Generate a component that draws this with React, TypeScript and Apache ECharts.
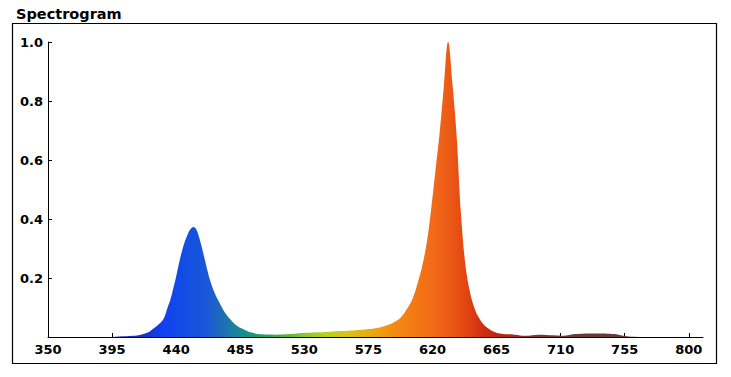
import React, { useEffect, useRef } from "react";
import * as echarts from "echarts";

const titleText = "Spectrogram";
const xTicks = [350, 395, 440, 485, 530, 575, 620, 665, 710, 755, 800];
const yTicks = [0.2, 0.4, 0.6, 0.8, 1.0];

const wavelengths = [
  350, 390, 400, 410, 415, 420, 423, 427, 431, 434, 436, 438, 440, 442, 444, 446, 448, 450, 452, 454,
  456, 458, 460, 462, 464, 467, 470, 474, 478, 483, 488, 493, 500, 510, 520, 532, 545, 555, 568, 580,
  587, 593, 598, 602, 606, 610, 613, 616, 619, 622, 625, 628, 631, 634, 637, 640,
  643, 646, 649, 652, 656, 660, 665, 670, 678, 685, 695, 705, 712, 720, 735, 748, 755, 765, 800,
];
const intensities = [
  0, 0, 0.002, 0.004, 0.008, 0.015, 0.025, 0.04, 0.06, 0.1, 0.127, 0.165, 0.205, 0.25, 0.29, 0.322, 0.347, 0.365, 0.373, 0.366,
  0.34, 0.305, 0.265, 0.225, 0.19, 0.15, 0.12, 0.085, 0.06, 0.037, 0.025, 0.015, 0.009, 0.008, 0.01, 0.014, 0.017, 0.02, 0.024, 0.03,
  0.038, 0.05, 0.068, 0.095, 0.13, 0.19, 0.245, 0.32, 0.43, 0.56, 0.69, 0.85, 1.0, 0.86, 0.68, 0.42,
  0.25, 0.16, 0.105, 0.07, 0.042, 0.026, 0.014, 0.01, 0.008, 0.004, 0.008, 0.006, 0.004, 0.01, 0.012, 0.01, 0.003, 0, 0,
];

// wavelength-to-colour stops for the fill
const colorNm = [350, 415, 430, 450, 462, 472, 480, 490, 502, 515, 530, 545, 560, 575, 590, 605, 620, 632, 642, 652, 665, 685, 720, 800];
const colorHex = [
  "#2a1a8a", "#1a30c0", "#1040f0", "#1450e0", "#1a58d8", "#1f6cb8", "#1d80a0", "#1a9080", "#2a9c60", "#50b040", "#88c828", "#b8d020",
  "#d8c418", "#e8ac14", "#f29012", "#f47c14", "#f26a18", "#ec5a16", "#e44814", "#d63412", "#c42212", "#8a3030", "#6a3a38", "#6a3a38",
];

export default function App() {
  const ref = useRef<HTMLDivElement>(null);
  useEffect(() => {
    if (!ref.current) return;
    const chart = echarts.init(ref.current, undefined, { renderer: "svg" });
    const lo = wavelengths[0];
    const hi = wavelengths[wavelengths.length - 1];
    const stops = colorNm.map((nm, i) => ({ offset: (nm - lo) / (hi - lo), color: colorHex[i] }));
    const labelFont = { fontFamily: "DejaVu Sans", fontWeight: "bold" as const, fontSize: 13, color: "#000" };
    chart.setOption({
      animation: false,
      backgroundColor: "#fff",
      title: {
        text: titleText,
        left: 11,
        top: 1,
        textStyle: { fontFamily: "DejaVu Sans", fontWeight: "bold", fontSize: 14.5, color: "#000" },
      },
      graphic: [
        {
          type: "rect",
          shape: { x: 12.5, y: 23.5, width: 704, height: 340 },
          style: { fill: "none", stroke: "#000", lineWidth: 1.2 },
          z: 0,
        },
      ],
      grid: { left: 48, right: 28, top: 42, bottom: 40 },
      xAxis: {
        type: "value",
        min: 350,
        max: 810,
        axisLine: { show: true, lineStyle: { color: "#000", width: 1 } },
        axisTick: { show: true, inside: true, length: 4, lineStyle: { color: "#000" }, customValues: xTicks },
        axisLabel: { ...labelFont, margin: 6, customValues: xTicks, formatter: (v: number) => String(v) },
        splitLine: { show: false },
      },
      yAxis: {
        type: "value",
        min: 0,
        max: 1,
        axisLine: { show: true, lineStyle: { color: "#000", width: 1 } },
        axisTick: { show: true, inside: true, length: 4, lineStyle: { color: "#000" }, customValues: yTicks },
        axisLabel: { ...labelFont, margin: 5, customValues: yTicks, formatter: (v: number) => v.toFixed(1) },
        splitLine: { show: false },
      },
      series: [
        {
          type: "line",
          data: wavelengths.map((w, i) => [w, intensities[i]]),
          showSymbol: false,
          smooth: 0.4,
          lineStyle: { width: 0 },
          areaStyle: {
            opacity: 1,
            color: new echarts.graphic.LinearGradient(0, 0, 1, 0, stops),
          },
          z: 1,
        },
      ],
    });
    return () => chart.dispose();
  }, []);
  return <div ref={ref} style={{ position: "fixed", left: 0, top: 0, width: 731, height: 377 }} />;
}
